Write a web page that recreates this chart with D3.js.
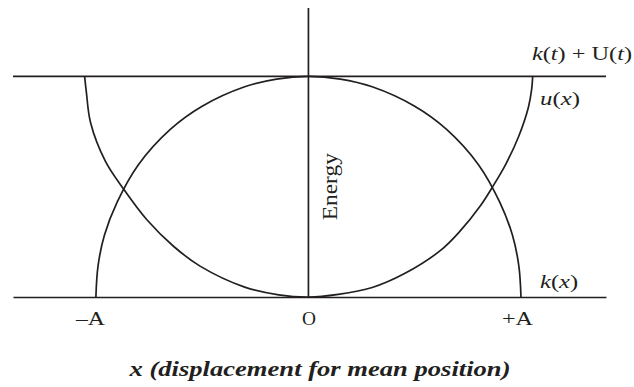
<!DOCTYPE html>
<html>
<head>
<meta charset="utf-8">
<script src="https://cdn.jsdelivr.net/npm/d3@7"></script>
<style>
  body { margin: 0; background: #fff; }
  text { font-family: "Liberation Serif", "Times New Roman", serif; fill: #231f20; }
  .line { fill: none; stroke: #231f20; stroke-width: 1.7px; }
</style>
</head>
<body>
<script>
// displacement in units of amplitude A, energy in units of total energy
const xExtent = [-1.39, 1.40];
const energyMax = 1.31;
const totalEnergy = 1;

const tickValues = [-1, 0, 1];
const tickLabels = ['\u2013A', 'O', '+A'];

// curve with its top at O (kinetic)
const kX = [-1.00, -0.99, -0.96, -0.90, -0.80, -0.65, -0.50, -0.30, -0.15, 0,
  0.15, 0.30, 0.50, 0.65, 0.80, 0.90, 0.96, 0.99, 1.00];
const kE = [0, 0.14, 0.28, 0.43, 0.60, 0.76, 0.865, 0.953, 0.988, 1,
  0.988, 0.953, 0.865, 0.76, 0.60, 0.43, 0.28, 0.14, 0];

// curve with its bottom at O (potential)
const uX = [-1.053, -1.045, -1.025, -0.955, -0.87, -0.76, -0.635, -0.51, -0.30, -0.14, 0,
  0.14, 0.30, 0.45, 0.62, 0.71, 0.81, 0.87, 0.93, 0.99, 1.035, 1.05, 1.055];
const uE = [1, 0.93, 0.79, 0.615, 0.49, 0.35, 0.23, 0.14, 0.045, 0.01, 0,
  0.012, 0.043, 0.105, 0.21, 0.295, 0.415, 0.505, 0.605, 0.73, 0.86, 0.94, 1];

const config = {
  margin: [8, 28, 90, 13],
  width: 634,
  height: 387
};

const rw = config.width - config.margin[1] - config.margin[3];
const rh = config.height - config.margin[0] - config.margin[2];

const svg = d3.select('body')
  .append('svg')
  .attr('width', config.width)
  .attr('height', config.height);

const g = svg.append('g')
  .attr('transform', `translate(${config.margin[3]}, ${config.margin[0]})`);

const x = d3.scaleLinear().domain(xExtent).range([0, rw]);
const y = d3.scaleLinear().domain([0, energyMax]).range([rh, 0]);

const xyline = d3.line()
  .x(d => x(d[0]))
  .y(d => y(d[1]))
  .curve(d3.curveCatmullRom.alpha(0.5));

// total energy line
g.append('path')
  .attr('class', 'line')
  .attr('d', d3.line()([[x(xExtent[0]), y(totalEnergy)], [x(xExtent[1]), y(totalEnergy)]]));

// x axis
const tickWidths = [29, 14, 31];
const xAxis = g.append('g')
  .attr('transform', `translate(0,${rh})`)
  .call(d3.axisBottom(x).tickValues(tickValues).tickFormat((d, i) => tickLabels[i]).tickSize(0).tickPadding(15));
xAxis.select('.domain').attr('stroke', '#231f20').attr('stroke-width', 1.7);
xAxis.selectAll('.tick text')
  .style('font-size', '19px')
  .attr('textLength', (d, i) => tickWidths[i])
  .attr('lengthAdjust', 'spacingAndGlyphs')
  .attr('dx', (d, i) => [-6, 0, -4][i]);

// energy axis
g.append('path')
  .attr('class', 'line')
  .attr('d', d3.line()([[x(0), y(0)], [x(0), y(energyMax)]]));

g.append('path').datum(d3.zip(kX, kE)).attr('class', 'line').attr('d', xyline);
g.append('path').datum(d3.zip(uX, uE)).attr('class', 'line').attr('d', xyline);

// labels
const lbl = g.append('text')
  .attr('x', x(xExtent[1]) + 26)
  .attr('y', y(totalEnergy) - 16)
  .attr('text-anchor', 'end')
  .attr('font-size', 19)
  .attr('textLength', 100)
  .attr('lengthAdjust', 'spacingAndGlyphs');
lbl.append('tspan').attr('font-style', 'italic').text('k');
lbl.append('tspan').text('(');
lbl.append('tspan').attr('font-style', 'italic').text('t');
lbl.append('tspan').text(') + U(');
lbl.append('tspan').attr('font-style', 'italic').text('t');
lbl.append('tspan').text(')');

const ul = g.append('text')
  .attr('x', x(1.09))
  .attr('y', y(0.87))
  .attr('font-size', 19)
  .attr('textLength', 40)
  .attr('lengthAdjust', 'spacingAndGlyphs');
ul.append('tspan').attr('font-style', 'italic').text('u');
ul.append('tspan').text('(');
ul.append('tspan').attr('font-style', 'italic').text('x');
ul.append('tspan').text(')');

const kl = g.append('text')
  .attr('x', x(1.09))
  .attr('y', y(0.04))
  .attr('font-size', 19)
  .attr('textLength', 38)
  .attr('lengthAdjust', 'spacingAndGlyphs');
kl.append('tspan').attr('font-style', 'italic').text('k');
kl.append('tspan').text('(');
kl.append('tspan').attr('font-style', 'italic').text('x');
kl.append('tspan').text(')');

g.append('text')
  .attr('transform', `translate(${x(0) + 29},${y(0.5)}) rotate(-90)`)
  .attr('text-anchor', 'middle')
  .attr('font-size', 21)
  .attr('textLength', 67)
  .attr('lengthAdjust', 'spacingAndGlyphs')
  .text('Energy');

svg.append('text')
  .attr('x', 320)
  .attr('y', 376)
  .attr('text-anchor', 'middle')
  .attr('font-size', 22)
  .attr('font-weight', 'bold')
  .attr('font-style', 'italic')
  .attr('textLength', 381)
  .attr('lengthAdjust', 'spacingAndGlyphs')
  .text('x (displacement for mean position)');
</script>
</body>
</html>
